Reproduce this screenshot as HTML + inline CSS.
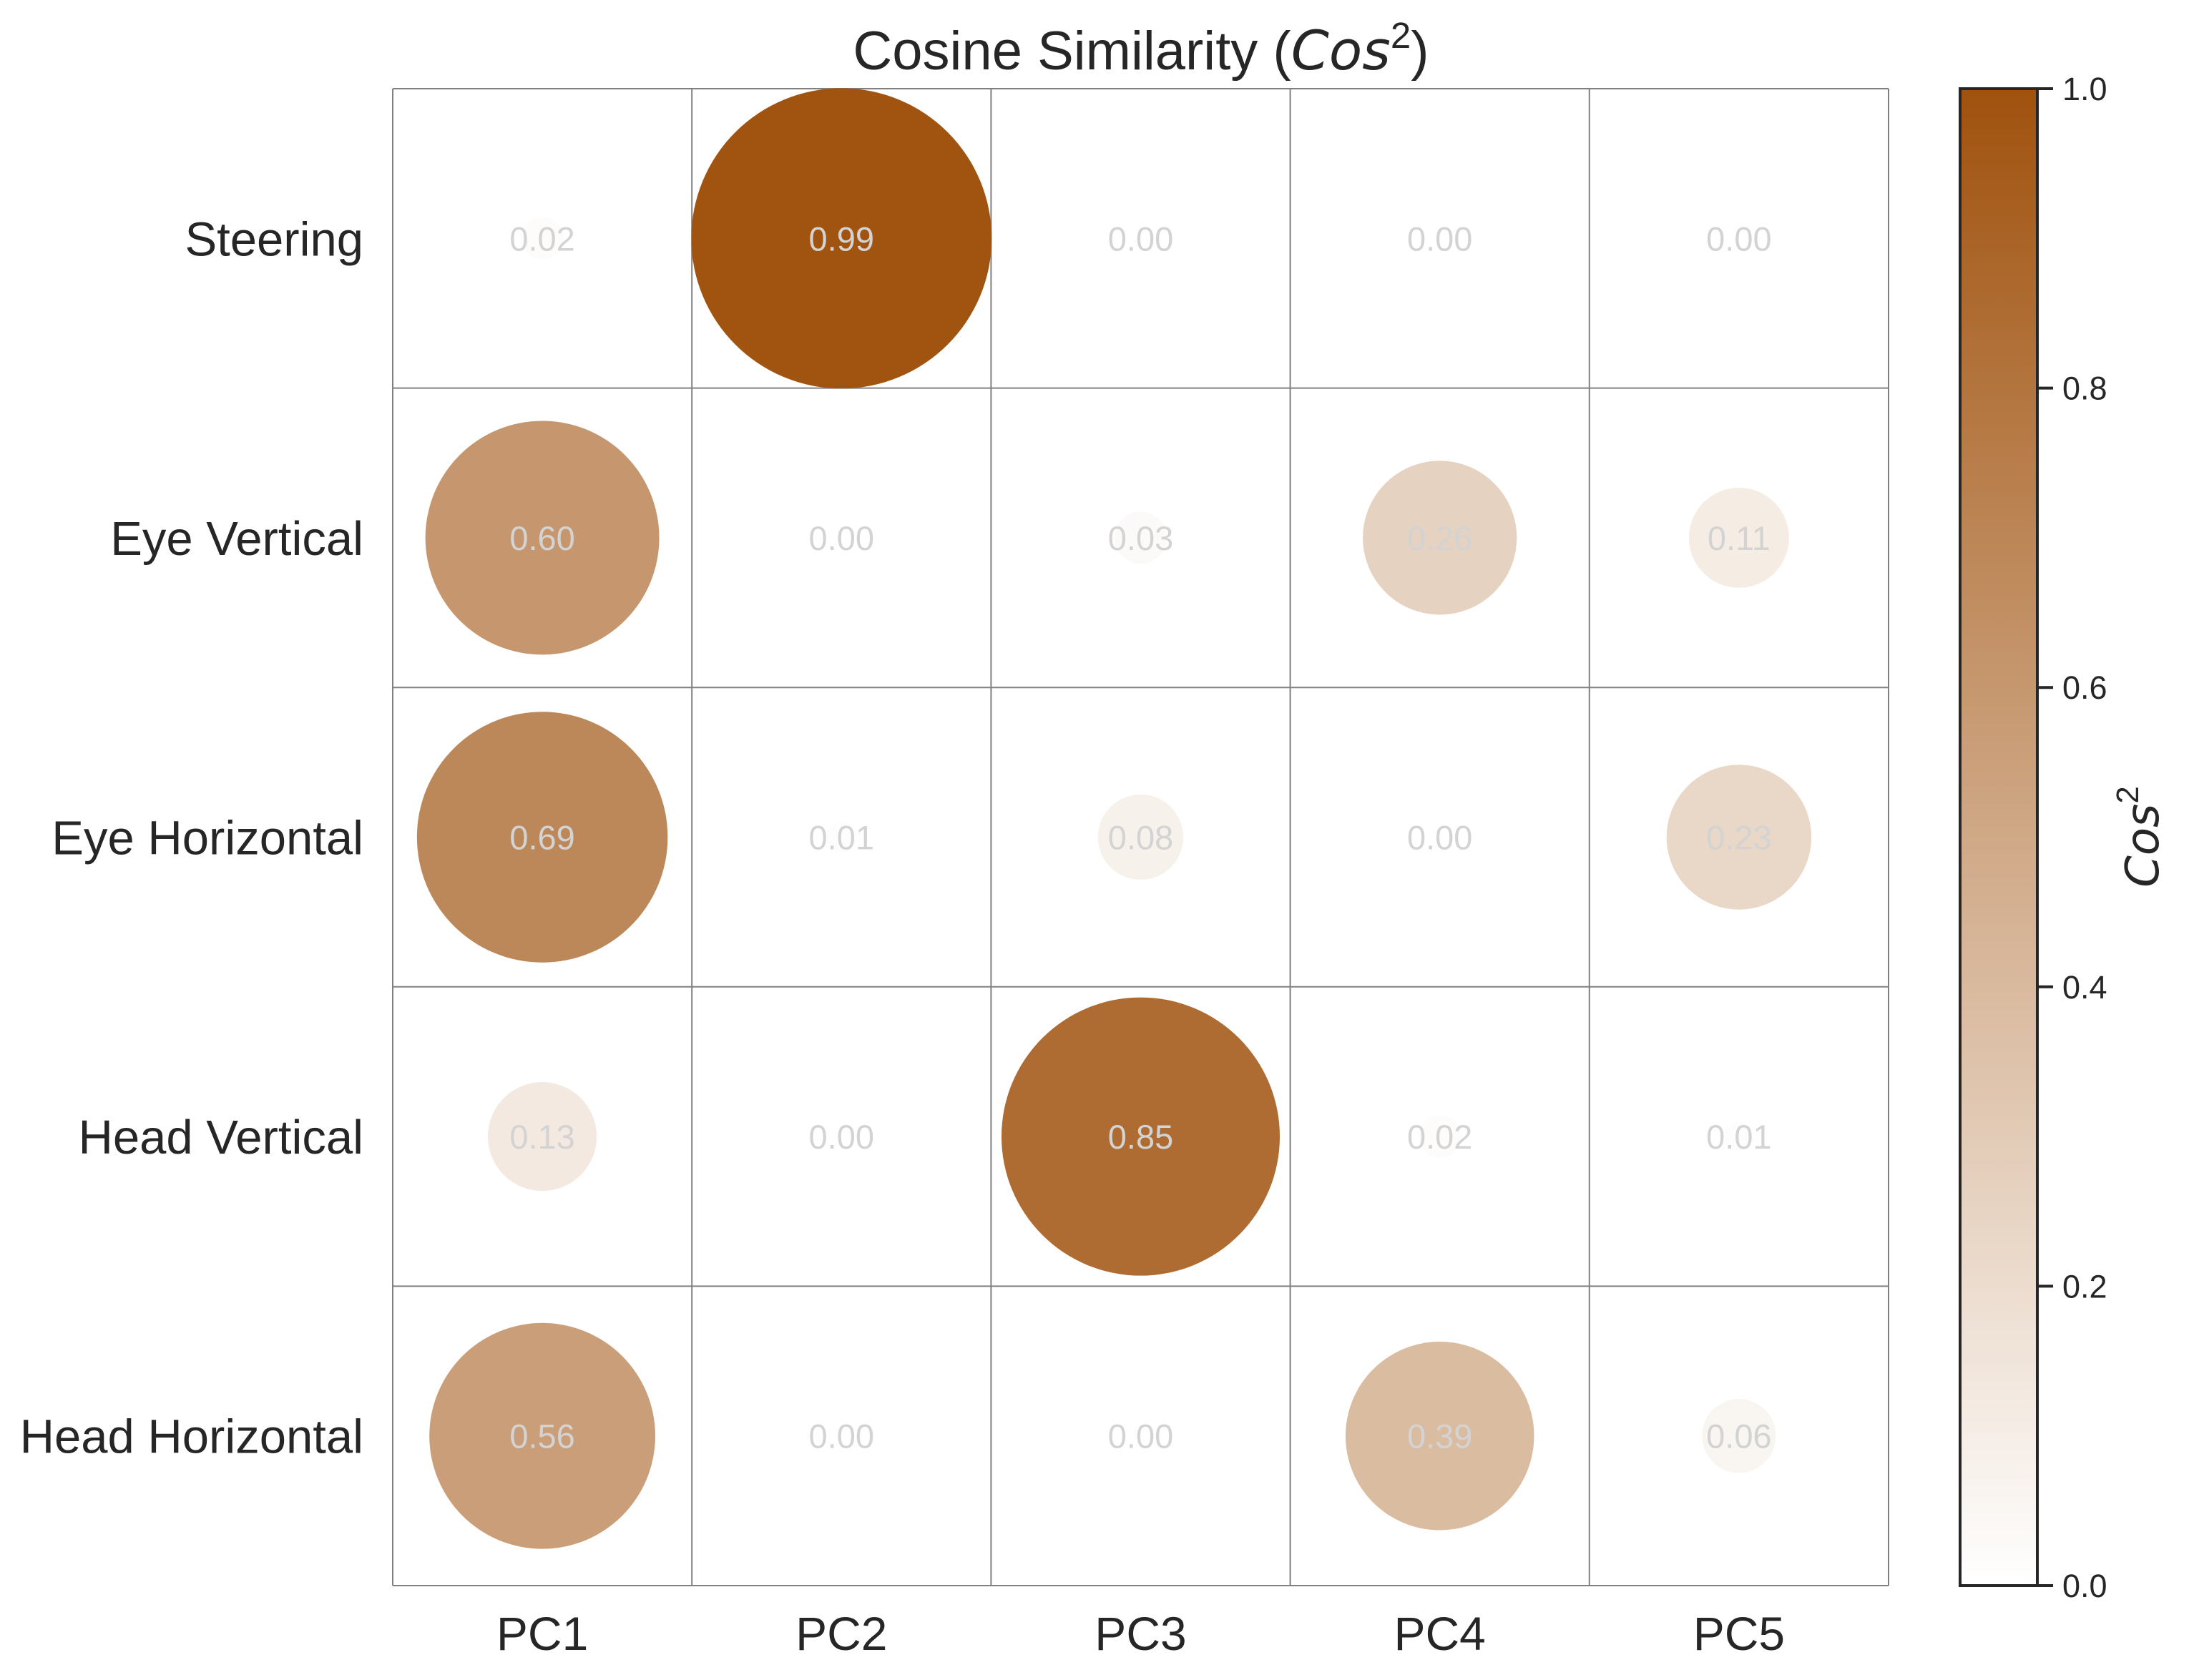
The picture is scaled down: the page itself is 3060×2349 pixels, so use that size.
<!DOCTYPE html>
<html><head><meta charset="utf-8">
<style>
html,body{margin:0;padding:0;background:#fff;}
svg{display:block;}
text{font-family:"Liberation Sans",sans-serif;}
</style></head>
<body>
<svg id="chart" width="3060" height="2349" viewBox="0 0 3060 2349" xmlns="http://www.w3.org/2000/svg">
  <defs>
    <linearGradient id="cbgrad" x1="0" y1="1" x2="0" y2="0">
      <stop offset="0" stop-color="#ffffff"/>
      <stop offset="1" stop-color="#a0520e"/>
    </linearGradient>
  </defs>
  <text x="1595" y="97" font-size="76" text-anchor="middle" fill="#262626">Cosine Similarity (<tspan font-style="italic" font-family="DejaVu Sans, sans-serif">Cos</tspan><tspan font-size="51" dy="-30">2</tspan><tspan dy="30">)</tspan></text>
  <g id="grid"></g>
  <g id="marks"></g>
  <g id="labels"></g>
  <g id="axes"></g>
  <g id="colorbar">
    <rect x="2740" y="124" width="108" height="2093" fill="url(#cbgrad)" stroke="#262626" stroke-width="4"/>
  </g>
  <text transform="translate(3017,1170) rotate(-90)" font-size="64" text-anchor="middle" fill="#262626"><tspan font-style="italic" font-family="DejaVu Sans, sans-serif">Cos</tspan><tspan font-size="44" dy="-28">2</tspan></text>
</svg>
<script>
const rows = ["Steering","Eye Vertical","Eye Horizontal","Head Vertical","Head Horizontal"];
const cols = ["PC1","PC2","PC3","PC4","PC5"];
const rowSteering = [0.02,0.99,0.00,0.00,0.00];
const rowEyeVertical = [0.60,0.00,0.03,0.26,0.11];
const rowEyeHorizontal = [0.69,0.01,0.08,0.00,0.23];
const rowHeadVertical = [0.13,0.00,0.85,0.02,0.01];
const rowHeadHorizontal = [0.56,0.00,0.00,0.39,0.06];
const cbTicks = [0.0,0.2,0.4,0.6,0.8,1.0];

const values = [rowSteering,rowEyeVertical,rowEyeHorizontal,rowHeadVertical,rowHeadHorizontal];
const NS = "http://www.w3.org/2000/svg";
const L=549,T=124,R=2640,B=2217;
const cw=(R-L)/cols.length, ch=(B-T)/rows.length;
const xC = i => L + cw*(i+0.5);
const yC = j => T + ch*(j+0.5);
const rad = v => 211*Math.sqrt(Math.max(0,v));
const cbY = v => B - (B-T)*v;
function color(v){
  const r=Math.round(255-v*(255-160)), g=Math.round(255-v*(255-82)), b=Math.round(255-v*(255-14));
  return `rgb(${r},${g},${b})`;
}
function mk(tag, attrs, parent){
  const e=document.createElementNS(NS,tag);
  for(const k in attrs) e.setAttribute(k, attrs[k]);
  parent.appendChild(e); return e;
}
const grid=document.getElementById('grid'), marks=document.getElementById('marks'),
      labels=document.getElementById('labels'), axes=document.getElementById('axes'),
      cb=document.getElementById('colorbar');
for(let i=0;i<=cols.length;i++){
  const l=mk('line',{x1:L+cw*i,x2:L+cw*i,y1:T,y2:B,stroke:'#808080','stroke-width':2},grid);
  
  
}
for(let j=0;j<=rows.length;j++){
  const l=mk('line',{x1:L,x2:R,y1:T+ch*j,y2:T+ch*j,stroke:'#808080','stroke-width':2},grid);
  
  
}
values.forEach((row,j)=>{
  row.forEach((v,i)=>{
    const c=mk('circle',{cx:xC(i),cy:yC(j),r:rad(v),fill:color(v)},marks);
    
    
    const t=mk('text',{x:xC(i),y:yC(j)+17,'font-size':47,'text-anchor':'middle',fill:'#d3d3d3'},labels);
    
    
    t.textContent=v.toFixed(2);
  });
});
rows.forEach((r,j)=>{
  const t=mk('text',{x:508,y:yC(j)+24,'font-size':67,'text-anchor':'end',fill:'#262626'},axes);
  
  
  t.textContent=r;
});
cols.forEach((c,i)=>{
  const t=mk('text',{x:xC(i),y:2307,'font-size':66,'text-anchor':'middle',fill:'#262626'},axes);
  
  
  t.textContent=c;
});
cbTicks.forEach(v=>{
  const l=mk('line',{x1:2848,x2:2870,y1:cbY(v),y2:cbY(v),stroke:'#262626','stroke-width':4},cb);
  
  
  const t=mk('text',{x:2883,y:cbY(v)+16,'font-size':45,fill:'#262626'},cb);
  
  
  t.textContent=v.toFixed(1);
});
</script>
</body></html>
